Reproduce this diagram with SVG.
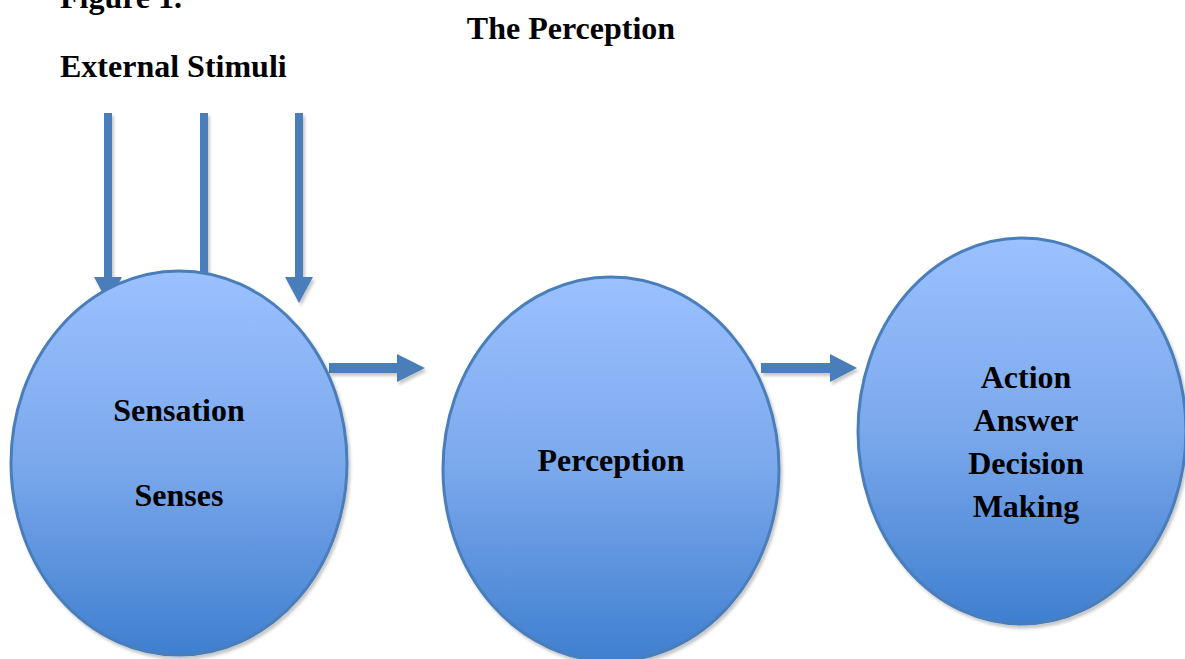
<svg xmlns="http://www.w3.org/2000/svg" width="1185" height="659" viewBox="0 0 1185 659">
<defs>
<linearGradient id="g" x1="0" y1="0" x2="0" y2="1">
<stop offset="0" stop-color="#9bc1ff"/>
<stop offset="0.5" stop-color="#7ba8ec"/>
<stop offset="1" stop-color="#3f7fcf"/>
</linearGradient>
<filter id="sh" x="-10%" y="-10%" width="130%" height="130%">
<feGaussianBlur in="SourceAlpha" stdDeviation="1.5"/>
<feOffset dx="2" dy="3" result="b"/>
<feFlood flood-color="#000" flood-opacity="0.22"/>
<feComposite in2="b" operator="in"/>
<feMerge><feMergeNode/><feMergeNode in="SourceGraphic"/></feMerge>
</filter>
</defs>
<style>
.t{font-family:"Liberation Serif","Times New Roman",serif;font-weight:bold;font-size:32px;fill:#000}
.n{fill:url(#g);stroke:#4a7ebb;stroke-width:3;filter:url(#sh)}
.a{fill:#4a7ebb;filter:url(#sh)}
</style>
<text class="t" x="60" y="8">Figure 1.</text>
<text class="t" x="571" y="39" text-anchor="middle">The Perception</text>
<text class="t" x="60" y="77">External Stimuli</text>
<g id="connectors">
<path class="a" d="M104,113 H112 V277 H122 L108,303 L94,277 H104 Z"/>
<path class="a" d="M200,113 H208 V277 H218 L204,303 L190,277 H200 Z"/>
<path class="a" d="M295,113 H303 V277 H313 L299,303 L285,277 H295 Z"/>
<path class="a" d="M329,363 H397 V354 L425,368 L397,382 V373 H329 Z"/>
<path class="a" d="M761,363 H830 V354 L857,368 L830,382 V373 H761 Z"/>
</g>
<g id="sensation">
<ellipse class="n" cx="179" cy="463" rx="168" ry="192"/>
<text class="t" x="179" y="421" text-anchor="middle">Sensation</text>
<text class="t" x="179" y="506" text-anchor="middle">Senses</text>
</g>
<g id="perception">
<ellipse class="n" cx="611" cy="469" rx="168" ry="192"/>
<text class="t" x="611" y="471" text-anchor="middle">Perception</text>
</g>
<g id="action">
<ellipse class="n" cx="1022" cy="431" rx="164" ry="193"/>
<text class="t" x="1026" y="388" text-anchor="middle">Action</text>
<text class="t" x="1026" y="431" text-anchor="middle">Answer</text>
<text class="t" x="1026" y="474" text-anchor="middle">Decision</text>
<text class="t" x="1026" y="517" text-anchor="middle">Making</text>
</g>
</svg>
